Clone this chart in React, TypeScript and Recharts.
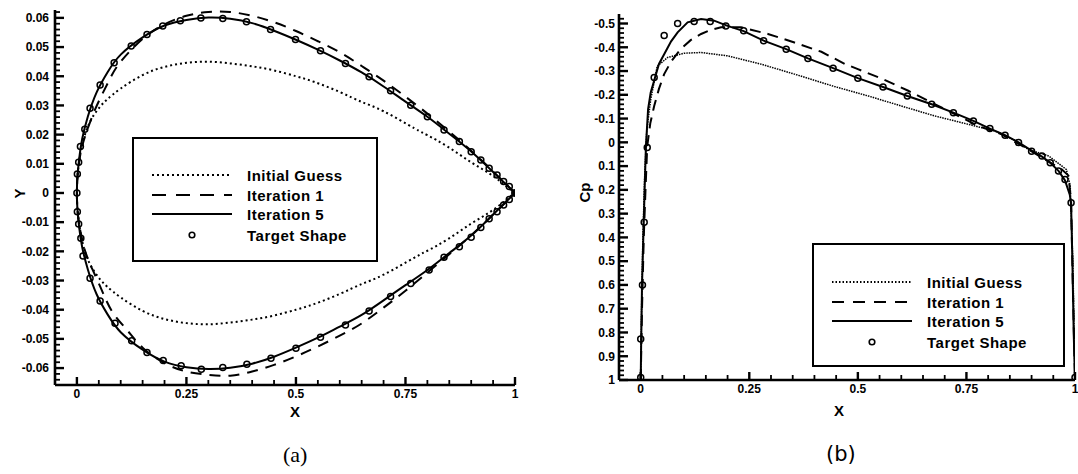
import React from 'react';
import { LineChart, Line, XAxis, YAxis } from 'recharts';

// ---- (a) shape: upper surface TE -> LE, then lower surface LE -> TE ----
const targetShapeX = [1.0, 0.987, 0.974, 0.959, 0.941, 0.922, 0.9, 0.873, 0.838, 0.8, 0.762, 0.716, 0.667, 0.613, 0.556, 0.499, 0.442, 0.387, 0.333, 0.283, 0.236, 0.196, 0.16, 0.124, 0.085, 0.053, 0.03, 0.018, 0.008, 0.004, 0.001, 0.0,
  0.001, 0.004, 0.009, 0.014, 0.03, 0.053, 0.087, 0.125, 0.16, 0.197, 0.238, 0.284, 0.333, 0.388, 0.443, 0.5, 0.556, 0.613, 0.667, 0.716, 0.762, 0.804, 0.838, 0.873, 0.9, 0.922, 0.941, 0.959, 0.974, 0.987, 1.0];
const targetShapeY = [0, 0.0022, 0.0039, 0.0062, 0.0085, 0.0113, 0.0141, 0.0176, 0.0216, 0.0261, 0.0301, 0.035, 0.0398, 0.0444, 0.0487, 0.0526, 0.056, 0.0587, 0.0598, 0.06, 0.059, 0.0572, 0.0543, 0.0504, 0.0446, 0.037, 0.029, 0.0218, 0.0159, 0.0105, 0.0065, 0,
  -0.0064, -0.0106, -0.0155, -0.0216, -0.0292, -0.037, -0.0446, -0.0506, -0.0547, -0.0574, -0.0592, -0.0604, -0.0598, -0.0587, -0.0566, -0.0532, -0.0494, -0.0452, -0.0404, -0.0355, -0.031, -0.0264, -0.022, -0.0184, -0.0152, -0.0118, -0.0088, -0.0064, -0.0041, -0.0022, 0];

const iter5ShapeX = [1, 0.95, 0.9, 0.85, 0.8, 0.75, 0.7, 0.65, 0.6, 0.55, 0.5, 0.45, 0.4, 0.35, 0.3, 0.25, 0.2, 0.15, 0.1, 0.07, 0.045, 0.025, 0.012, 0.005, 0.001, 0,
  0.001, 0.005, 0.012, 0.025, 0.045, 0.07, 0.1, 0.15, 0.2, 0.25, 0.3, 0.35, 0.4, 0.45, 0.5, 0.55, 0.6, 0.65, 0.7, 0.75, 0.8, 0.85, 0.9, 0.95, 1];
const iter5ShapeY = [0, 0.0072, 0.0142, 0.0203, 0.0261, 0.0313, 0.0365, 0.0413, 0.0454, 0.0491, 0.0525, 0.0556, 0.0582, 0.0597, 0.0601, 0.0593, 0.0574, 0.0533, 0.0474, 0.0414, 0.0345, 0.0262, 0.0185, 0.0115, 0.005, 0,
  -0.005, -0.0115, -0.0185, -0.0262, -0.0347, -0.0416, -0.0477, -0.0537, -0.0578, -0.0597, -0.0603, -0.0599, -0.0585, -0.0561, -0.053, -0.0496, -0.0458, -0.0418, -0.0368, -0.0316, -0.0264, -0.0206, -0.0146, -0.0074, 0];

const iter1ShapeX = [1, 0.95, 0.9, 0.85, 0.8, 0.75, 0.7, 0.65, 0.6, 0.55, 0.5, 0.45, 0.4, 0.35, 0.3, 0.25, 0.2, 0.15, 0.1, 0.075, 0.045, 0.025, 0.012, 0.005, 0.001, 0,
  0.001, 0.005, 0.012, 0.025, 0.053, 0.08, 0.114, 0.15, 0.2, 0.25, 0.3, 0.35, 0.4, 0.45, 0.5, 0.55, 0.6, 0.65, 0.7, 0.75, 0.8, 0.85, 0.9, 0.95, 1];
const iter1ShapeY = [0, 0.0074, 0.0145, 0.021, 0.0272, 0.033, 0.0385, 0.0435, 0.0482, 0.052, 0.0555, 0.0585, 0.0607, 0.062, 0.062, 0.0607, 0.0578, 0.0528, 0.045, 0.039, 0.0298, 0.0222, 0.016, 0.0105, 0.005, 0,
  -0.005, -0.0105, -0.016, -0.0225, -0.032, -0.0405, -0.0469, -0.053, -0.0583, -0.0612, -0.0623, -0.0626, -0.0612, -0.0589, -0.056, -0.0526, -0.0489, -0.0447, -0.0393, -0.0335, -0.0273, -0.021, -0.0145, -0.0074, 0];

const initShapeX = [1, 0.991, 0.95, 0.9, 0.846, 0.8, 0.77, 0.7, 0.65, 0.6, 0.541, 0.5, 0.45, 0.4, 0.35, 0.3, 0.25, 0.2, 0.15, 0.1, 0.07, 0.053, 0.035, 0.022, 0.012, 0.005, 0.001, 0,
  0.001, 0.005, 0.012, 0.022, 0.035, 0.053, 0.07, 0.1, 0.15, 0.2, 0.25, 0.3, 0.35, 0.4, 0.45, 0.5, 0.541, 0.6, 0.65, 0.7, 0.77, 0.8, 0.846, 0.9, 0.95, 0.991, 1];
const initShapeY = [0, 0.001, 0.0058, 0.0105, 0.0159, 0.0198, 0.0222, 0.028, 0.0312, 0.0346, 0.0381, 0.04, 0.042, 0.0434, 0.0444, 0.045, 0.0446, 0.0432, 0.0404, 0.0358, 0.0322, 0.0296, 0.0258, 0.0216, 0.0165, 0.0105, 0.005, 0,
  -0.005, -0.0105, -0.0165, -0.0216, -0.0258, -0.0296, -0.0322, -0.0358, -0.0404, -0.0432, -0.0446, -0.045, -0.0444, -0.0434, -0.042, -0.04, -0.0381, -0.0346, -0.0312, -0.028, -0.0222, -0.0198, -0.0159, -0.0105, -0.0058, -0.001, 0];

// ---- (b) pressure coefficient ----
const targetCpX = [0, 0, 0.004, 0.008, 0.015, 0.031, 0.054, 0.085, 0.123, 0.16, 0.196, 0.237, 0.283, 0.335, 0.385, 0.443, 0.5, 0.558, 0.614, 0.67, 0.72, 0.766, 0.804, 0.839, 0.87, 0.9, 0.924, 0.943, 0.962, 0.977, 0.991, 1.0];
const targetCpY = [0.99, 0.827, 0.6, 0.336, 0.022, -0.273, -0.45, -0.5, -0.508, -0.508, -0.49, -0.47, -0.427, -0.392, -0.353, -0.312, -0.27, -0.233, -0.195, -0.16, -0.125, -0.09, -0.058, -0.03, 0.001, 0.037, 0.058, 0.086, 0.121, 0.156, 0.254, 0.99];

const iter5CpX = [0, 0.001, 0.003, 0.006, 0.009, 0.012, 0.017, 0.023, 0.031, 0.042, 0.054, 0.07, 0.085, 0.108, 0.139, 0.169, 0.2, 0.237, 0.283, 0.335, 0.385, 0.443, 0.5, 0.558, 0.614, 0.67, 0.72, 0.766, 0.804, 0.839, 0.87, 0.9, 0.924, 0.943, 0.962, 0.977, 0.988, 0.991, 0.994, 0.997, 1.0];
const iter5CpY = [1.0, 0.85, 0.6, 0.4, 0.2, 0.016, -0.14, -0.21, -0.26, -0.33, -0.371, -0.425, -0.463, -0.505, -0.519, -0.512, -0.49, -0.468, -0.428, -0.392, -0.353, -0.312, -0.27, -0.233, -0.195, -0.16, -0.125, -0.09, -0.058, -0.03, 0.0, 0.035, 0.06, 0.086, 0.12, 0.16, 0.22, 0.26, 0.5, 0.8, 1.0];

const iter1CpX = [0, 0.003, 0.007, 0.011, 0.015, 0.022, 0.031, 0.042, 0.054, 0.07, 0.092, 0.115, 0.139, 0.16, 0.185, 0.231, 0.293, 0.354, 0.416, 0.47, 0.5, 0.558, 0.616, 0.67, 0.724, 0.777, 0.831, 0.885, 0.931, 0.97, 0.985, 0.991, 0.995, 1.0];
const iter1CpY = [1.0, 0.7, 0.4, 0.2, 0.016, -0.08, -0.153, -0.225, -0.287, -0.34, -0.392, -0.43, -0.456, -0.472, -0.484, -0.484, -0.456, -0.42, -0.381, -0.33, -0.308, -0.266, -0.217, -0.167, -0.118, -0.069, -0.034, 0.022, 0.072, 0.114, 0.14, 0.25, 0.6, 1.0];

const initCpX = [0, 0.002, 0.005, 0.009, 0.014, 0.023, 0.038, 0.062, 0.1, 0.139, 0.2, 0.277, 0.354, 0.416, 0.446, 0.524, 0.6, 0.677, 0.754, 0.815, 0.86, 0.893, 0.94, 0.98, 0.989, 0.995, 1.0];
const initCpY = [1.0, 0.7, 0.4, 0.15, -0.05, -0.18, -0.32, -0.357, -0.375, -0.378, -0.364, -0.329, -0.287, -0.252, -0.235, -0.195, -0.153, -0.111, -0.076, -0.048, -0.01, 0.03, 0.058, 0.114, 0.184, 0.5, 1.0];

// ---- ticks ----
const xMajor = [0, 0.25, 0.5, 0.75, 1];
const xLabels = ['0', '0.25', '0.5', '0.75', '1'];
const shapeYMajor = [0.06, 0.05, 0.04, 0.03, 0.02, 0.01, 0, -0.01, -0.02, -0.03, -0.04, -0.05, -0.06];
const shapeYLabels = ['0.06', '0.05', '0.04', '0.03', '0.02', '0.01', '0', '-0.01', '-0.02', '-0.03', '-0.04', '-0.05', '-0.06'];
const cpMajor = [-0.5, -0.4, -0.3, -0.2, -0.1, 0, 0.1, 0.2, 0.3, 0.4, 0.5, 0.6, 0.7, 0.8, 0.9, 1];
const cpLabels = ['-0.5', '-0.4', '-0.3', '-0.2', '-0.1', '0', '0.1', '0.2', '0.3', '0.4', '0.5', '0.6', '0.7', '0.8', '0.9', '1'];

const legendItems = ['Initial Guess', 'Iteration 1', 'Iteration 5', 'Target Shape'];

const zip = (xs: number[], ys: number[]) => xs.map((x, i) => ({ x, y: ys[i] }));

// minor ticks between the labelled ones (axis decoration only)
const steps = (from: number, step: number, n: number) =>
  Array.from({ length: n }, (_, i) => Math.round((from + i * step) * 1e6) / 1e6);
const xTicks = steps(0, 0.05, 21);
const shapeYTicks = steps(-0.064, 0.002, 64);
const cpTicks = steps(-0.52, 0.02, 77);

const FONT = '"Liberation Sans", Arial, sans-serif';

const findIdx = (majors: number[], v: number) => majors.findIndex((m) => Math.abs(m - v) < 1e-7);

function makeYTick(majors: number[], labels: string[], gap: number) {
  return (props: any) => {
    const { x, y, payload } = props;
    const idx = findIdx(majors, payload.value);
    const major = idx >= 0;
    return (
      <g>
        <path d={`M${x},${y}H${x + (major ? 9 : 5)}`} stroke="#000" strokeWidth={major ? 2.4 : 1.8} fill="none" />
        {major && (
          <text x={x - gap} y={y} dy="0.36em" textAnchor="end" fontFamily={FONT} fontWeight={700} fontSize={12} fill="#000" stroke="none">
            {labels[idx]}
          </text>
        )}
      </g>
    );
  };
}

function makeXTick(gap: number) {
  return (props: any) => {
    const { x, y, payload } = props;
    const idx = findIdx(xMajor, payload.value);
    const major = idx >= 0;
    return (
      <g>
        <path d={`M${x},${y}V${y - (major ? 8 : 5)}`} stroke="#000" strokeWidth={major ? 2.4 : 1.8} fill="none" />
        {major && (
          <text x={x} y={y + gap} dy="0.36em" textAnchor="middle" fontFamily={FONT} fontWeight={700} fontSize={12} fill="#000" stroke="none">
            {xLabels[idx]}
          </text>
        )}
      </g>
    );
  };
}

const axisLine = { stroke: '#000', strokeWidth: 2.6 };

function Legend({ left, top, width, height, rowTops, dotted, dashed }: any) {
  return (
    <div
      style={{
        position: 'absolute', left, top, width, height, boxSizing: 'border-box',
        border: '2px solid #000', background: '#fff',
      }}
    >
      {legendItems.map((name, i) => (
        <div key={name} style={{ position: 'absolute', left: 18, top: rowTops[i] - 9, height: 18, display: 'flex', alignItems: 'center' }}>
          <svg width={82} height={18} style={{ display: 'block' }}>
            {i === 0 && <line x1={0} x2={80} y1={9} y2={9} stroke="#000" strokeWidth={2} strokeDasharray={dotted} />}
            {i === 1 && <line x1={0} x2={80} y1={9} y2={9} stroke="#000" strokeWidth={2} strokeDasharray={dashed} />}
            {i === 2 && <line x1={0} x2={80} y1={9} y2={9} stroke="#000" strokeWidth={2} />}
            {i === 3 && <circle cx={40} cy={9} r={2.8} fill="none" stroke="#000" strokeWidth={1.6} />}
          </svg>
          <span style={{ marginLeft: 13, fontFamily: FONT, fontWeight: 700, fontSize: 15, letterSpacing: 0.5, color: '#000', whiteSpace: 'nowrap' }}>
            {name}
          </span>
        </div>
      ))}
    </div>
  );
}

const textAbs = (extra: React.CSSProperties): React.CSSProperties => ({
  position: 'absolute', fontFamily: FONT, fontWeight: 700, color: '#000', lineHeight: 1, whiteSpace: 'nowrap', ...extra,
});

export default function App() {
  const targetDot = { r: 3, fill: 'none', stroke: '#000', strokeWidth: 1.5 };
  return (
    <div style={{ position: 'absolute', left: 0, top: 0, width: 1078, height: 474, background: '#fff', overflow: 'hidden' }}>
      {/* (a) shape */}
      <div style={{ position: 'absolute', left: 0, top: 0 }}>
        <LineChart width={540} height={420} margin={{ top: 10, right: 25, bottom: 0, left: 0 }}>
          <XAxis type="number" dataKey="x" domain={[-0.05, 1]} allowDataOverflow ticks={xTicks} interval={0}
            height={35} tickSize={0} tickMargin={0} axisLine={axisLine} stroke="#000" tickLine={false} tick={makeXTick(9)} />
          <YAxis type="number" dataKey="y" domain={[-0.0658, 0.0627]} allowDataOverflow ticks={shapeYTicks} interval={0}
            width={55} tickSize={0} tickMargin={0} axisLine={axisLine} stroke="#000" tickLine={false} tick={makeYTick(shapeYMajor, shapeYLabels, 6)} />
          <Line data={zip(initShapeX, initShapeY)} dataKey="y" type="natural" stroke="#000" strokeWidth={2}
            strokeDasharray="2 3" dot={false} isAnimationActive={false} />
          <Line data={zip(iter1ShapeX, iter1ShapeY)} dataKey="y" type="natural" stroke="#000" strokeWidth={2}
            strokeDasharray="11 8" dot={false} isAnimationActive={false} />
          <Line data={zip(iter5ShapeX, iter5ShapeY)} dataKey="y" type="natural" stroke="#000" strokeWidth={2}
            dot={false} isAnimationActive={false} />
          <Line data={zip(targetShapeX, targetShapeY)} dataKey="y" type="linear" stroke="none"
            dot={targetDot} activeDot={false} isAnimationActive={false} />
        </LineChart>
      </div>
      <Legend left={132} top={137} width={246} height={125} rowTops={[36, 56, 75, 96]} dotted="2 3" dashed="14 10" />
      <div style={textAbs({ left: 290, top: 404, fontSize: 15 })}>X</div>
      <div style={textAbs({ left: 14, top: 186, fontSize: 15, transform: 'rotate(-90deg)' })}>Y</div>
      <div style={{ position: 'absolute', left: 283, top: 442, fontFamily: '"Liberation Serif", serif', fontSize: 22 }}>(a)</div>

      {/* (b) Cp */}
      <div style={{ position: 'absolute', left: 540, top: 0 }}>
        <LineChart width={538} height={420} margin={{ top: 14, right: 3, bottom: 0, left: 0 }}>
          <XAxis type="number" dataKey="x" domain={[-0.05, 1]} allowDataOverflow ticks={xTicks} interval={0}
            height={40} tickSize={0} tickMargin={0} axisLine={axisLine} stroke="#000" tickLine={false} tick={makeXTick(9)} />
          <YAxis type="number" dataKey="y" domain={[-0.54, 1]} reversed allowDataOverflow ticks={cpTicks} interval={0}
            width={79} tickSize={0} tickMargin={0} axisLine={axisLine} stroke="#000" tickLine={false} tick={makeYTick(cpMajor, cpLabels, 4)} />
          <Line data={zip(initCpX, initCpY)} dataKey="y" type="linear" stroke="#000" strokeWidth={1.5}
            strokeDasharray="1.5 1" dot={false} isAnimationActive={false} />
          <Line data={zip(iter1CpX, iter1CpY)} dataKey="y" type="linear" stroke="#000" strokeWidth={2}
            strokeDasharray="11 7" dot={false} isAnimationActive={false} />
          <Line data={zip(iter5CpX, iter5CpY)} dataKey="y" type="linear" stroke="#000" strokeWidth={2}
            dot={false} isAnimationActive={false} />
          <Line data={zip(targetCpX, targetCpY)} dataKey="y" type="linear" stroke="none"
            dot={targetDot} activeDot={false} isAnimationActive={false} />
        </LineChart>
      </div>
      <Legend left={812} top={243} width={253} height={124} rowTops={[37, 57, 76, 97]} dotted="1.5 2" dashed="12 9" />
      <div style={textAbs({ left: 834, top: 403, fontSize: 15 })}>X</div>
      <div style={textAbs({ left: 574, top: 185, fontSize: 15, transform: 'rotate(-90deg)' })}>Cp</div>
      <div style={{ position: 'absolute', left: 826, top: 442, fontFamily: '"DejaVu Sans", sans-serif', fontSize: 21 }}>(b)</div>
    </div>
  );
}
